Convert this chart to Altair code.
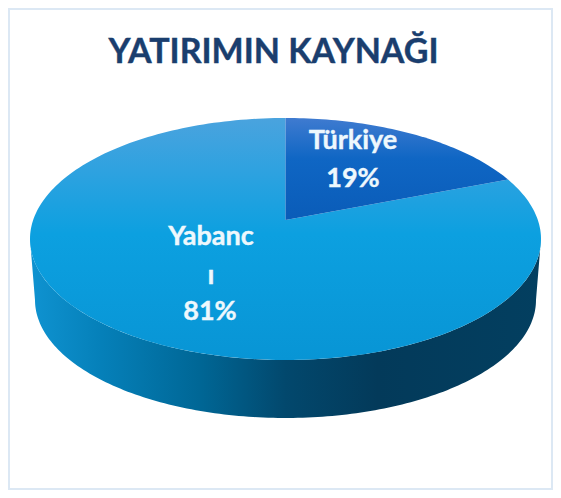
import numpy as np
import pandas as pd
import altair as alt

# ---- data ----
categories = ["Türkiye", "Yabancı"]
shares = [19, 81]
title_text = "YATIRIMIN KAYNAĞI"
label_lines = ["Türkiye", "19%", "Yabanc", "ı", "81%"]

# ---- layout (page pixels) ----
W, H = 545, 482
CX, CY, RX, RY = 285.5, 239.0, 255.5, 121.0
VERTEX_Y = 220.0
LOW_CY, LOW_RX, LOW_RY = 300.0, 250.5, 118.0
VIEW_SQUEEZE = 0.886   # perspective foreshortening of the back slice


def ux(px):
    return (px - CX) / RX


def uy(py):
    return (CY - py) / RY


x_scale = alt.Scale(domain=[ux(8), ux(8 + W)], range=[0, W], nice=False, zero=False)
y_scale = alt.Scale(domain=[uy(8 + H), uy(8)], range=[H, 0], nice=False, zero=False)
X = alt.X("ex:Q", scale=x_scale, axis=None)
Y = alt.Y("ey:Q", scale=y_scale, axis=None)
ORD = alt.Order("i:Q")


def table(xs, ys):
    return pd.DataFrame({"ex": xs, "ey": ys, "i": np.arange(len(xs))})


# slice boundary angle, clockwise from 12 o'clock
split = np.deg2rad(shares[0] / sum(shares) * 360 * VIEW_SQUEEZE)

t_small = np.linspace(0, split, 60)
small = table(
    np.r_[0, np.sin(t_small), 0],
    np.r_[uy(VERTEX_Y), np.cos(t_small), uy(VERTEX_Y)],
)

t_big = np.linspace(split, 2 * np.pi, 240)
big = table(
    np.r_[0, np.sin(t_big), 0],
    np.r_[uy(VERTEX_Y), np.cos(t_big), uy(VERTEX_Y)],
)

t_front = np.linspace(np.pi / 2, 3 * np.pi / 2, 160)
wall = table(
    np.r_[np.sin(t_front), np.sin(t_front[::-1]) * LOW_RX / RX],
    np.r_[np.cos(t_front), uy(LOW_CY) + np.cos(t_front[::-1]) * LOW_RY / RY],
)


def vgrad(stops):
    return alt.Gradient(
        gradient="linear", x1=0, x2=0, y1=0, y2=1,
        stops=[alt.GradientStop(offset=o, color=c) for o, c in stops],
    )


def hgrad(stops):
    return alt.Gradient(
        gradient="linear", x1=0, x2=1, y1=0, y2=0,
        stops=[alt.GradientStop(offset=o, color=c) for o, c in stops],
    )


def poly(df, fill):
    return (
        alt.Chart(df)
        .mark_line(filled=True, fill=fill, strokeWidth=0, interpolate="linear")
        .encode(x=X, y=Y, order=ORD)
    )


wall_layer = poly(wall, hgrad([
    (0.0, "#0f93d1"), (0.14, "#0580b9"), (0.33, "#006796"),
    (0.5, "#02486d"), (0.68, "#033a5a"), (1.0, "#033f60"),
]))
big_layer = poly(big, vgrad([
    (0.0, "#4aa3de"), (0.22, "#2ea2e0"), (0.48, "#0ca0e0"), (1.0, "#0895d5"),
]))
small_layer = poly(small, vgrad([
    (0.0, "#3f7bd0"), (0.4, "#0f66c4"), (1.0, "#0a5cb8"),
]))

labels = pd.DataFrame({
    "text": label_lines,
    "ex": [ux(353), ux(353), ux(211), ux(211), ux(210)],
    "ey": [uy(149), uy(187), uy(245), uy(284), uy(320)],
})
label_layer = (
    alt.Chart(labels)
    .mark_text(font="Lato", fontSize=27, fontWeight="bold", color="#eef8fd",
               align="center", baseline="alphabetic", stroke="#eef8fd", strokeWidth=0.4)
    .encode(x=X, y=Y, text="text:N")
)

title_layer = (
    alt.Chart(pd.DataFrame({"text": [title_text], "ex": [ux(273.5)], "ey": [uy(63)]}))
    .mark_text(font="Lato", fontSize=34, fontWeight="bold", color="#1a3e6e",
               align="center", baseline="alphabetic", stroke="#1a3e6e", strokeWidth=0.4)
    .encode(x=X, y=Y, text="text:N")
)

frame = (
    alt.Chart(pd.DataFrame({"k": [0]}))
    .mark_rect(filled=False, stroke="#dce8f4", strokeWidth=2)
    .encode(x=alt.value(1), x2=alt.value(W - 1), y=alt.value(1), y2=alt.value(H - 1))
)

chart = (
    alt.layer(frame, wall_layer, big_layer, small_layer, label_layer, title_layer)
    .properties(
        width=W, height=H,
        padding=0,
        autosize=alt.AutoSizeParams(type="none"),
        background="white",
    )
    .configure_view(stroke=None)
)

chart.save("out.html", embed_options={"renderer": "svg", "actions": False})
